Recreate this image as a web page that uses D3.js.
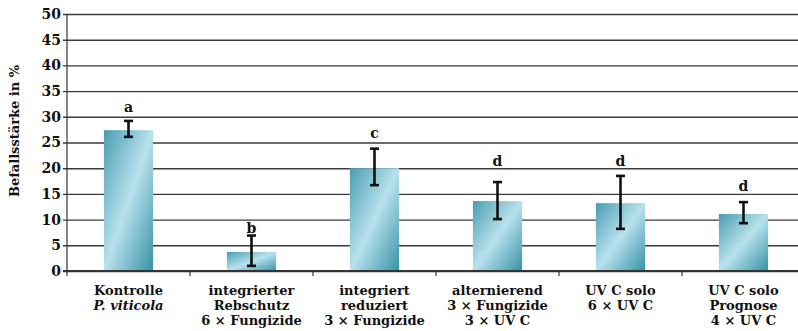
<!DOCTYPE html>
<html>
<head>
<meta charset="utf-8">
<script src="https://cdn.jsdelivr.net/npm/d3@7"></script>
<style>
  html, body { margin: 0; padding: 0; background: #fff; }
  svg { display: block; font-family: "DejaVu Serif", serif; font-weight: bold; }
</style>
</head>
<body>
<svg id="chart" width="798" height="331"></svg>
<script>
// Treatments (each label split into lines; italic lines marked with *)
const categories = [
  ["Kontrolle", "*P. viticola"],
  ["integrierter", "Rebschutz", "6 × Fungizide"],
  ["integriert", "reduziert", "3 × Fungizide"],
  ["alternierend", "3 × Fungizide", "3 × UV C"],
  ["UV C solo", "6 × UV C"],
  ["UV C solo", "Prognose", "4 × UV C"]
];
// Mean infestation severity (%)
const values = [27.4, 3.7, 20.0, 13.6, 13.2, 11.1];
// Error bar ends (%)
const errLow  = [26.1, 1.0, 16.7, 10.1, 8.2, 9.3];
const errHigh = [29.2, 6.9, 23.8, 17.3, 18.5, 13.4];
// Significance letters and the value they sit at
const letters = ["a", "b", "c", "d", "d", "d"];
const letterAt = [31.0, 7.4, 25.8, 20.4, 20.4, 15.6];
const yTicks = [0, 5, 10, 15, 20, 25, 30, 35, 40, 45, 50];
const yTitle = "Befallsstärke in %";

const svg = d3.select("#chart");
const mLeft = 67, mRight = 805, mTop = 14, mBottom = 271;

const x = d3.scaleBand().domain(d3.range(categories.length)).range([mLeft, mRight]).paddingInner(0.6).paddingOuter(0.3);
const xb = d3.scaleBand().domain(d3.range(categories.length)).range([mLeft, mRight]);
const y = d3.scaleLinear().domain([0, 50]).range([mBottom, mTop]);

// bar gradient
const defs = svg.append("defs");
const grad = defs.append("linearGradient").attr("id", "barGrad")
  .attr("x1", 0).attr("y1", 0).attr("x2", 1).attr("y2", 1);
grad.append("stop").attr("offset", "0%").attr("stop-color", "#4a9db1");
grad.append("stop").attr("offset", "50%").attr("stop-color", "#b8e1ed");
grad.append("stop").attr("offset", "100%").attr("stop-color", "#3792a6");

// horizontal gridlines with ticks on the left
const yAxis = d3.axisLeft(y).tickValues(yTicks).tickSize(-(mRight - mLeft) - 4).tickPadding(2);
const ya = svg.append("g").attr("transform", `translate(${mLeft - 4},0)`).call(yAxis);
ya.select(".domain").remove();
ya.selectAll(".tick line").attr("stroke", "#3a3a3a").attr("stroke-width", 1.4);
ya.selectAll(".tick text")
  .style("font-family", "DejaVu Serif").style("font-weight", "bold").style("font-size", "14px").attr("fill", "#111");

// y axis line
svg.append("line").attr("x1", mLeft).attr("x2", mLeft).attr("y1", mTop).attr("y2", mBottom)
  .attr("stroke", "#333").attr("stroke-width", 1.2);

// bars
svg.append("g").selectAll("rect").data(values).join("rect")
  .attr("x", (d, i) => x(i)).attr("width", x.bandwidth())
  .attr("y", d => y(d)).attr("height", d => y(0) - y(d))
  .attr("fill", "url(#barGrad)");

// x axis with ticks at category boundaries
svg.append("line").attr("x1", mLeft - 4).attr("x2", mRight).attr("y1", mBottom).attr("y2", mBottom)
  .attr("stroke", "#333").attr("stroke-width", 2);
svg.append("g").selectAll("line").data(d3.range(categories.length + 1)).join("line")
  .attr("x1", i => mLeft + i * xb.bandwidth()).attr("x2", i => mLeft + i * xb.bandwidth())
  .attr("y1", mBottom).attr("y2", mBottom + 5).attr("stroke", "#333").attr("stroke-width", 1.2);

// error bars
const eb = svg.append("g").attr("stroke", "#111").attr("stroke-width", 2.6).attr("fill", "none");
values.forEach((v, i) => {
  const cx = x(i) + x.bandwidth() / 2;
  eb.append("line").attr("x1", cx).attr("x2", cx).attr("y1", y(errLow[i])).attr("y2", y(errHigh[i]));
  eb.append("line").attr("x1", cx - 4.5).attr("x2", cx + 4.5).attr("y1", y(errLow[i])).attr("y2", y(errLow[i]));
  eb.append("line").attr("x1", cx - 4.5).attr("x2", cx + 4.5).attr("y1", y(errHigh[i])).attr("y2", y(errHigh[i]));
});

// significance letters
svg.append("g").selectAll("text").data(letters).join("text")
  .attr("x", (d, i) => x(i) + x.bandwidth() / 2).attr("y", (d, i) => y(letterAt[i]))
  .attr("text-anchor", "middle").attr("font-size", 14).attr("fill", "#111").text(d => d);

// category labels
const cl = svg.append("g");
categories.forEach((lines, i) => {
  const cx = xb(i) + xb.bandwidth() / 2;
  const t = cl.append("text").attr("x", cx).attr("y", 295)
    .attr("text-anchor", "middle").attr("font-size", 13).attr("fill", "#111");
  lines.forEach((ln, k) => {
    const it = ln.startsWith("*");
    t.append("tspan").attr("x", cx).attr("dy", k === 0 ? 0 : 15)
      .attr("font-style", it ? "italic" : null).text(it ? ln.slice(1) : ln);
  });
});

// y axis title
svg.append("text").attr("transform", "translate(19,131) rotate(-90)")
  .attr("text-anchor", "middle").attr("font-size", 13).attr("fill", "#111").text(yTitle);
</script>
</body>
</html>
